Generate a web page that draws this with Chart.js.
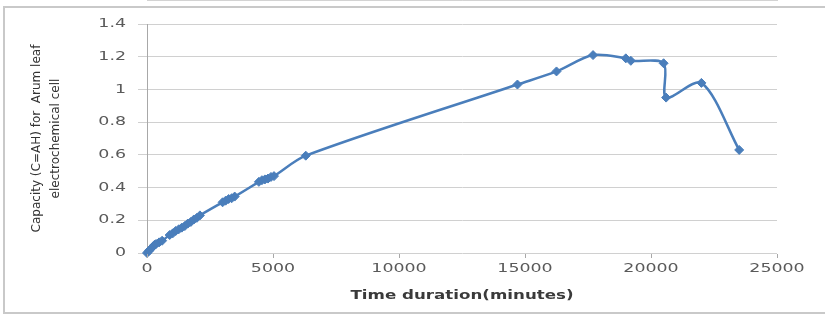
<!DOCTYPE html>
<html>
<head>
<meta charset="utf-8">
<script src="https://cdn.jsdelivr.net/npm/chart.js@4/dist/chart.umd.min.js"></script>
<style>
  html, body { margin: 0; padding: 0; background: #ffffff; }
  #frame {
    position: absolute; left: 3px; top: 6px; width: 830px; height: 308px;
    border: 2px solid #c9c9c9; box-sizing: border-box;
  }
  #chart { position: absolute; left: 0; top: 0; }
</style>
</head>
<body>
<div id="frame"></div>
<canvas id="chart" width="825" height="320"></canvas>
<script>
// Elapsed time (minutes) and measured capacity (Ah) of the Arum leaf cell
const timeMinutes = [
  0, 60, 120, 180, 240, 300, 360, 480, 600,
  900, 1020, 1140, 1260, 1380, 1500, 1620, 1740, 1860, 1980, 2100,
  3000, 3120, 3240, 3360, 3480,
  4440, 4560, 4680, 4800, 4920, 5040,
  6300,
  14700, 16250, 17700, 19000, 19200, 20500, 20600, 22000, 23500
];
const capacityAh = [
  0, 0.01, 0.02, 0.03, 0.04, 0.05, 0.055, 0.065, 0.075,
  0.11, 0.12, 0.135, 0.145, 0.155, 0.165, 0.18, 0.19, 0.205, 0.215, 0.23,
  0.31, 0.32, 0.33, 0.335, 0.345,
  0.435, 0.445, 0.45, 0.455, 0.465, 0.47,
  0.595,
  1.03, 1.11, 1.21, 1.19, 1.175, 1.16, 0.95, 1.04, 0.63
];
const xTickLabels = ['0', '5000', '10000', '15000', '20000', '25000'];
const yTickLabels = ['0', '0.2', '0.4', '0.6', '0.8', '1', '1.2', '1.4'];
const xTitle = 'Time duration(minutes)';
const yTitle = ['Capacity (C=AH) for  Arum leaf', 'electrochemical cell'];

const points = timeMinutes.map((t, i) => ({ x: t, y: capacityAh[i] }));

// Upright text drawn after the datasets (tick labels, x title) is widened
// around its own anchor point, so left/centre/right alignment is kept.
const WIDEN = 1.45;
const wideTextPlugin = {
  id: 'wideText',
  afterDatasetsDraw(chart) {
    const ctx = chart.ctx;
    const fill = CanvasRenderingContext2D.prototype.fillText;
    ctx.fillText = function (text, x, y) {
      const m = this.getTransform();
      if (m.b !== 0 || m.c !== 0) { fill.call(this, text, x, y); return; }
      this.save();
      this.translate(x, y);
      this.scale(WIDEN, 1);
      fill.call(this, text, 0, 0);
      this.restore();
    };
  },
  afterDraw(chart) {
    delete chart.ctx.fillText;
  }
};

const lineBlue = '#4a7ebb';

new Chart(document.getElementById('chart'), {
  type: 'line',
  data: {
    datasets: [{
      data: points,
      borderColor: lineBlue,
      backgroundColor: lineBlue,
      borderWidth: 2.5,
      tension: 0.3,
      pointStyle: 'rectRot',
      pointRadius: 4.5,
      pointBorderWidth: 1,
      pointBorderColor: lineBlue,
      pointBackgroundColor: lineBlue,
      clip: false
    }]
  },
  options: {
    responsive: false,
    animation: false,
    events: [],
    layout: { padding: { left: 0, right: 48, top: 24, bottom: 0 } },
    plugins: { legend: { display: false }, tooltip: { enabled: false } },
    scales: {
      x: {
        type: 'linear',
        min: 0,
        max: 25000,
        afterFit(scale) { scale.height = 67; },
        afterBuildTicks(scale) {
          scale.ticks = xTickLabels.map(v => ({ value: Number(v) }));
        },
        ticks: {
          z: 1,
          autoSkip: false,
          maxRotation: 0,
          padding: 4,
          color: '#5a5a5a',
          font: { family: 'DejaVu Sans', size: 12 },
          callback: (v, i) => xTickLabels[i]
        },
        grid: {
          z: 1,
          display: true,
          drawOnChartArea: false,
          drawTicks: true,
          tickLength: 5,
          lineWidth: 1,
          color: '#a8a8a8'
        },
        border: { display: true, color: '#a8a8a8', width: 1 },
        title: {
          display: true,
          text: xTitle,
          color: '#3a3a3a',
          font: { family: 'DejaVu Sans', size: 11.5, weight: 'bold' },
          padding: { top: 0, bottom: 17 }
        }
      },
      y: {
        type: 'linear',
        min: 0,
        max: 1.4,
        afterFit(scale) { scale.width = 147; },
        afterBuildTicks(scale) {
          scale.ticks = yTickLabels.map(v => ({ value: Number(v) }));
        },
        ticks: {
          z: 1,
          padding: 12,
          color: '#5a5a5a',
          font: { family: 'DejaVu Sans', size: 12 },
          callback: (v, i) => yTickLabels[i]
        },
        grid: {
          display: true,
          color: '#d0d0d0',
          lineWidth: 1,
          tickLength: 9,
          drawTicks: true
        },
        border: { display: true, color: '#a8a8a8', width: 1 },
        title: {
          display: true,
          text: yTitle,
          color: '#333333',
          font: { family: 'DejaVu Sans', size: 12, lineHeight: 1.6 },
          padding: { top: 27, bottom: 0 }
        }
      }
    }
  },
  plugins: [wideTextPlugin]
});
</script>
</body>
</html>
